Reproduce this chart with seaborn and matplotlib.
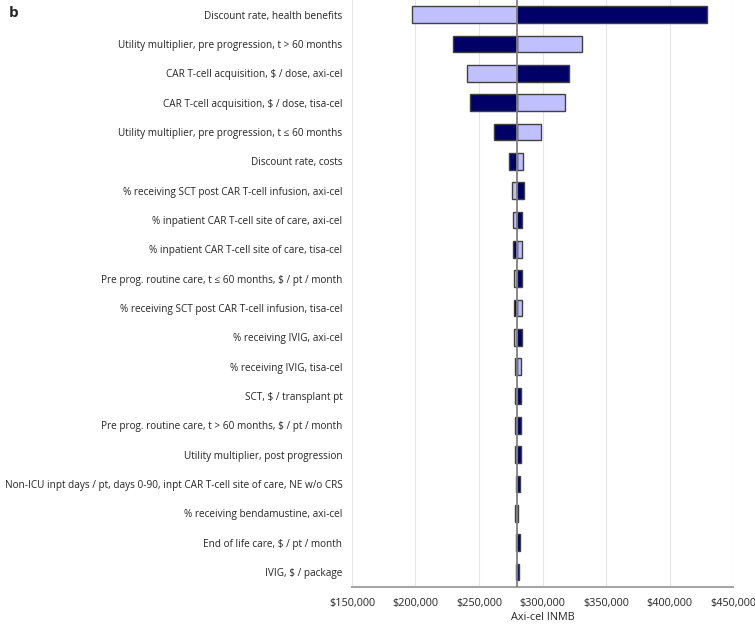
import matplotlib
matplotlib.use("Agg")
import matplotlib.pyplot as plt
import seaborn as sns
import pandas as pd

parameters = [
    "Discount rate, health benefits",
    "Utility multiplier, pre progression, t > 60 months",
    "CAR T-cell acquisition, $ / dose, axi-cel",
    "CAR T-cell acquisition, $ / dose, tisa-cel",
    "Utility multiplier, pre progression, t \u2264 60 months",
    "Discount rate, costs",
    "% receiving SCT post CAR T-cell infusion, axi-cel",
    "% inpatient CAR T-cell site of care, axi-cel",
    "% inpatient CAR T-cell site of care, tisa-cel",
    "Pre prog. routine care, t \u2264 60 months, $ / pt / month",
    "% receiving SCT post CAR T-cell infusion, tisa-cel",
    "% receiving IVIG, axi-cel",
    "% receiving IVIG, tisa-cel",
    "SCT, $ / transplant pt",
    "Pre prog. routine care, t > 60 months, $ / pt / month",
    "Utility multiplier, post progression",
    "Non-ICU inpt days / pt, days 0-90, inpt CAR T-cell site of care, NE w/o CRS",
    "% receiving bendamustine, axi-cel",
    "End of life care, $ / pt / month",
    "IVIG, $ / package",
]

base_inmb = 280200

# INMB at the light-coloured input bound
light_inmb = [197000, 331000, 240300, 317700, 299000, 284500, 275800, 276600,
              284000, 277400, 283700, 277400, 282700, 278400, 278400, 278400,
              279000, 278000, 279300, 279500]
# INMB at the dark-coloured input bound
dark_inmb = [429400, 229500, 320600, 242700, 261900, 274000, 285300, 284000,
             276900, 283700, 277400, 283700, 278000, 282700, 282700, 282700,
             282500, 280400, 282000, 281700]

tick_values = [150000, 200000, 250000, 300000, 350000, 400000, 450000]
tick_labels = ["$150,000", "$200,000", "$250,000", "$300,000",
               "$350,000", "$400,000", "$450,000"]

LIGHT = "#C0C0FF"
DARK = "#000066"
EDGE = "#404040"

sns.set_theme(style="white")
plt.rcParams["font.family"] = ["Open Sans", "DejaVu Sans"]

df = pd.DataFrame({
    "param": parameters,
    "light": [v - base_inmb for v in light_inmb],
    "dark": [v - base_inmb for v in dark_inmb],
})

fig = plt.figure(figsize=(7.55, 6.24), dpi=100)
ax = fig.add_axes([0.4662, 0.0598, 0.5047, 0.9402])

ax.grid(axis="x", color="#E6E6E6", linewidth=0.8, zorder=0)
ax.set_axisbelow(True)

sns.barplot(data=df, y="param", x="light", order=parameters, orient="h",
            color=LIGHT, saturation=1, width=0.57, edgecolor=EDGE,
            linewidth=1.0, ax=ax, zorder=2)
sns.barplot(data=df, y="param", x="dark", order=parameters, orient="h",
            color=DARK, saturation=1, width=0.57, edgecolor=EDGE,
            linewidth=1.0, ax=ax, zorder=2)

ax.axvline(0, color="#808080", linewidth=1.3, zorder=3)

ax.set_xticks([t - base_inmb for t in tick_values])
ax.set_xticklabels(tick_labels, fontsize=7.8)
ax.set_xlim(tick_values[0] - base_inmb, tick_values[-1] - base_inmb)
ax.set_ylim(len(parameters) - 0.5, -0.5)
ax.tick_params(axis="y", labelsize=7.2, length=0, pad=7)
ax.tick_params(axis="x", length=0, pad=8)
ax.set_ylabel("")
ax.set_xlabel("Axi-cel INMB", fontsize=7.8, labelpad=2)

for s in ["top", "right", "left"]:
    ax.spines[s].set_visible(False)
ax.spines["bottom"].set_color("#A6A6A6")
ax.spines["bottom"].set_linewidth(1.5)

fig.text(0.012, 0.979, "b", fontsize=11, fontweight="bold", va="center", ha="left")

fig.savefig("out.png", dpi=100)
